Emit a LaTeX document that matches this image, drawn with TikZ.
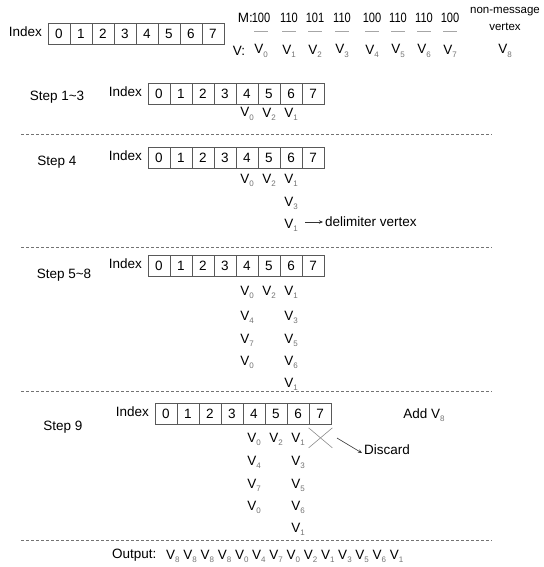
\documentclass[tikz,border=0pt]{standalone}
\usepackage{fontspec}
\setmainfont{Liberation Sans}
\usetikzlibrary{arrows.meta,calc}
\definecolor{subgray}{gray}{0.45}
\definecolor{linegray}{gray}{0.45}
\newcommand{\vsub}[1]{V\raisebox{-0.45ex}{\fontsize{8}{8}\selectfont\color{subgray}#1}}
\newcommand{\narrow}[1]{\scalebox{0.82}[1]{#1}}
\newcommand{\indexrow}[3]{%
  \node[anchor=east] (#1idx) at (#2-6,#3-2) {Index};
  \foreach \i in {0,...,7} {\node[cellbox] (#1c\i) at ({#2+11+22*\i},#3) {\i};}
}
\begin{document}
\begin{tikzpicture}[x=1pt,y=-1pt,
  every node/.style={font=\fontsize{13.5}{15}\selectfont, inner sep=0pt},
  cellbox/.style={draw=black!65, line width=0.7pt, minimum width=22pt, minimum height=21pt, inner sep=0pt},
  sepline/.style={draw=linegray, dash pattern=on 3pt off 2pt, line width=0.6pt},
  ubar/.style={draw=black!35, line width=0.8pt},
  small/.style={font=\fontsize{11.5}{13}\selectfont},
  arr/.style={draw=black!80, line width=0.6pt, -{Stealth[length=4pt,width=3.5pt]}},
  crossline/.style={draw=black!45, line width=0.6pt}
]
\useasboundingbox (0,0) rectangle (543,567);

% ---------- top row ----------
\indexrow{t}{48}{34}
\node[anchor=east] (mlab) at (253,18) {M:};
\foreach \x/\m [count=\k from 0] in {261/100,289/110,315/101,342/110,372/100,398/110,424/110,450/100} {
  \node (m\k) at (\x,18) {\narrow{\m}};
  \draw[ubar] ($(\x,31)+(-7,0)$) -- ($(\x,31)+(7,0)$);
  \node (tv\k) at (\x,51) {\vsub{\k}};
}
\node (vlab) at (239,51) {V:};
\node[small] (nm1) at (505,12) {non-message};
\node[small] (nm2) at (505,27) {vertex};
\node (tv8) at (505,51) {\vsub{8}};

% ---------- Step 1~3 ----------
\node (s1lab) at (57,97) {Step 1\textasciitilde3};
\indexrow{a}{148}{94}
\node (a40) at (247,114) {\vsub{0}};
\node (a50) at (269,114) {\vsub{2}};
\node (a60) at (291,114) {\vsub{1}};
\coordinate (d1l) at (21,134); \coordinate (d1r) at (492,134);
\draw[sepline] (d1l) -- (d1r);

% ---------- Step 4 ----------
\node (s2lab) at (57,162) {Step 4};
\indexrow{b}{148}{158}
\node (b40) at (247,180) {\vsub{0}};
\node (b50) at (269,180) {\vsub{2}};
\node (b60) at (291,180) {\vsub{1}};
\node (b61) at (291,203) {\vsub{3}};
\node (b62) at (291,225) {\vsub{1}};
\node[anchor=west] (delim) at (325,222) {delimiter vertex};
\coordinate (delimstart) at (305,222);
\draw[arr] (delimstart) -- ([xshift=-2pt]delim.west);
\coordinate (d2l) at (21,247); \coordinate (d2r) at (492,247);
\draw[sepline] (d2l) -- (d2r);

% ---------- Step 5~8 ----------
\node (s3lab) at (64,275) {Step 5\textasciitilde8};
\indexrow{c}{148}{266}
\foreach \v/\y [count=\k from 0] in {0/292,4/317,7/340,0/362} {\node (c4\k) at (247,\y) {\vsub{\v}};}
\node (c50) at (269,292) {\vsub{2}};
\foreach \v/\y [count=\k from 0] in {1/292,3/317,5/340,6/362,1/384} {\node (c6\k) at (291,\y) {\vsub{\v}};}
\coordinate (d3l) at (21,391); \coordinate (d3r) at (492,391);
\draw[sepline] (d3l) -- (d3r);

% ---------- Step 9 ----------
\node (s4lab) at (63,427) {Step 9};
\indexrow{d}{155}{414}
\foreach \v/\y [count=\k from 0] in {0/439,4/462,7/485,0/507} {\node (d4\k) at (254,\y) {\vsub{\v}};}
\node (d50) at (276,439) {\vsub{2}};
\foreach \v/\y [count=\k from 0] in {1/439,3/462,5/485,6/507,1/529} {\node (d6\k) at (298,\y) {\vsub{\v}};}
\coordinate (xa) at ($(dc7.south west)+(0,3)$);
\coordinate (xb) at ($(dc7.south east)+(1,23)$);
\coordinate (xc) at ($(dc7.south west)+(0,23)$);
\coordinate (xd) at ($(dc7.south east)+(1,3)$);
\draw[crossline] (xa) -- (xb);
\draw[crossline] (xc) -- (xd);
\node (addv) at (424,415) {Add \vsub{8}};
\node[anchor=west] (disc) at (364,450) {Discard};
\coordinate (discstart) at (337,438);
\draw[arr] (discstart) -- ([shift={(-2pt,-3pt)}]disc.west);
\coordinate (d4l) at (21,540); \coordinate (d4r) at (492,540);
\draw[sepline] (d4l) -- (d4r);

% ---------- Output ----------
\node[anchor=west] (outlab) at (112,555) {Output:};
\node[anchor=west] (outseq) at (166,556) {\vsub{8} \vsub{8} \vsub{8} \vsub{8} \vsub{0} \vsub{4} \vsub{7} \vsub{0} \vsub{2} \vsub{1} \vsub{3} \vsub{5} \vsub{6} \vsub{1}};
\end{tikzpicture}
\end{document}
